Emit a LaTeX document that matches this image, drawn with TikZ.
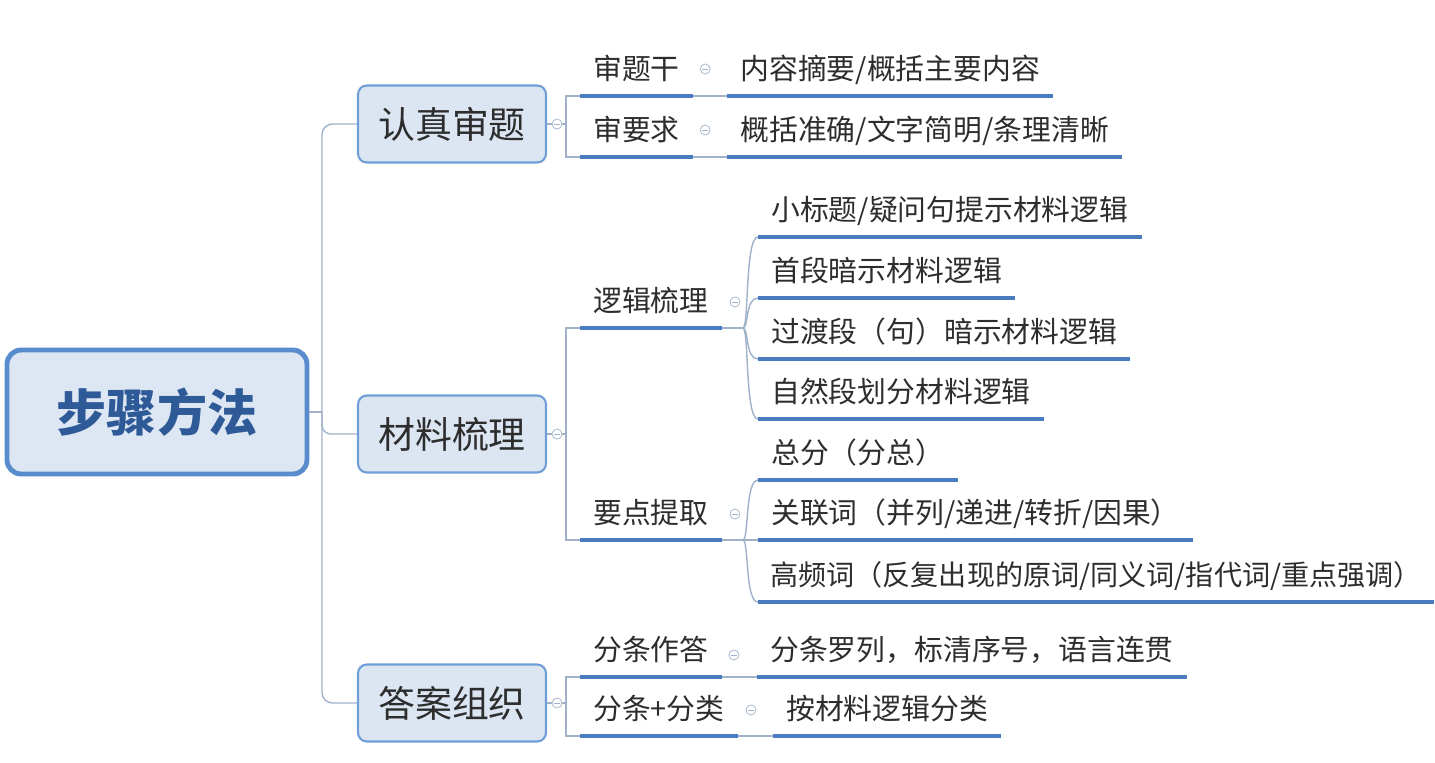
\documentclass[tikz,border=0pt]{standalone}
\usepackage{fontspec}
\setmainfont{Noto Sans CJK SC}
\usetikzlibrary{calc,positioning}
\definecolor{rootline}{RGB}{88,140,205}
\definecolor{rootfill}{RGB}{221,231,243}
\definecolor{rootink}{RGB}{46,90,152}
\definecolor{mainline}{RGB}{112,158,214}
\definecolor{mainfill}{RGB}{220,230,242}
\definecolor{underblue}{RGB}{72,124,190}
\definecolor{linkgray}{RGB}{160,178,202}
\definecolor{ink}{RGB}{45,45,45}
\tikzset{
	link/.style={draw=linkgray,line width=0.8pt},
	uline/.style={draw=underblue,line width=2.2pt},
	rootbox/.style={draw=rootline,fill=rootfill,line width=2.8pt,rounded corners=8pt,
		minimum width=6.0cm,minimum height=2.48cm,text=rootink,
		font=\fontsize{28.5pt}{32pt}\selectfont\bfseries},
	mainbox/.style={draw=mainline,fill=mainfill,line width=1.2pt,rounded corners=5pt,
		minimum width=3.76cm,minimum height=1.54cm,text=ink,
		font=\fontsize{21pt}{24pt}\selectfont},
	topic/.style={anchor=south west,inner xsep=0.26cm,inner ysep=0pt,
		text height=0.45cm,text depth=0.32cm,text=ink,
		font=\fontsize{16.4pt}{19pt}\selectfont},
	fold/.style={circle,draw=linkgray!85,fill=white,line width=0.5pt,
		minimum size=0.2cm,inner sep=0pt,
		path picture={\draw[linkgray,line width=0.5pt]
			([xshift=-1.8pt]path picture bounding box.center) --
			([xshift=1.8pt]path picture bounding box.center);}},
}
\begin{document}
\begin{tikzpicture}[x=0.02cm,y=-0.02cm]
	\useasboundingbox (0,0) rectangle (1435,762);
	
	% root and main branches
	\node[rootbox] (root) at (157,412) {步骤方法};
	\node[mainbox] (shen) at (452,124) {认真审题};
	\node[mainbox] (cail) at (452,434) {材料梳理};
	\node[mainbox] (daan) at (452,703) {答案组织};
	
	% second level
	\node[topic] (tgan) at (580,96) {审题干};
	\node[topic] (tyao) at (580,157) {审要求};
	\node[topic] (luoji) at (580,328) {逻辑梳理};
	\node[topic] (yaod) at (580,540) {要点提取};
	\node[topic] (fzd) at (580,677) {分条作答};
	\node[topic] (ffl) at (580,736) {分条+分类};
	
	% leaves
	\node[topic] (gaik) at ($(tgan.south east)+(34,0)$) {内容摘要/概括主要内容};
	\node[topic] (zhunq) at ($(tyao.south east)+(34,0)$) {概括准确/文字简明/条理清晰};
	
	\node[topic] (xbt) at ($(luoji.south east)+(36,-91)$) {小标题/疑问句提示材料逻辑};
	\node[topic] (sd) at ($(luoji.south east)+(36,-30)$) {首段暗示材料逻辑};
	\node[topic] (gd) at ($(luoji.south east)+(36,31)$) {过渡段（句）暗示材料逻辑};
	\node[topic] (zr) at ($(luoji.south east)+(36,91)$) {自然段划分材料逻辑};
	
	\node[topic] (zf) at ($(yaod.south east)+(36,-60)$) {总分（分总）};
	\node[topic] (gl) at ($(yaod.south east)+(36,0)$) {关联词（并列/递进/转折/因果）};
	\node[topic,inner xsep=0.24cm,font=\fontsize{16pt}{19pt}\selectfont] (gp)
	at ($(yaod.south east)+(36,62)$) {高频词（反复出现的原词/同义词/指代词/重点强调）};
	
	\node[topic] (flz) at ($(fzd.south east)+(35,0)$) {分条罗列，标清序号，语言连贯};
	\node[topic] (acl) at ($(ffl.south east)+(35,0)$) {按材料逻辑分类};
	
	% trunk from the root
	\coordinate (trunk) at (322,412);
	\draw[link] (root.east) -- (trunk);
	\draw[link,rounded corners=6pt] (shen.west) -| (trunk) |- (daan.west);
	\draw[link,rounded corners=5pt] (trunk) |- (cail.west);
	
	% brackets to the second level
	\coordinate (jshen) at ($(shen.east)+(19,0)$);
	\coordinate (jcail) at ($(cail.east)+(19,0)$);
	\coordinate (jdaan) at ($(daan.east)+(19,0)$);
	\draw[link] (shen.east) -- (jshen);
	\draw[link] (cail.east) -- (jcail);
	\draw[link] (daan.east) -- (jdaan);
	\draw[link] (tgan.south west) -| (jshen) |- (tyao.south west);
	\draw[link] (luoji.south west) -| (jcail) |- (yaod.south west);
	\draw[link] (fzd.south west) -| (jdaan) |- (ffl.south west);
	
	% single leaves
	\draw[link] (tgan.south east) -- (gaik.south west);
	\draw[link] (tyao.south east) -- (zhunq.south west);
	\draw[link] (fzd.south east) -- (flz.south west);
	\draw[link] (ffl.south east) -- (acl.south west);
	
	% curved fans
	\coordinate (jluoji) at ($(luoji.south east)+(21,0)$);
	\coordinate (jyaod) at ($(yaod.south east)+(21,0)$);
	\draw[link] (luoji.south east) -- (jluoji);
	\draw[link] (yaod.south east) -- (jyaod);
	\foreach \c in {xbt,sd,gd,zr}
	\draw[link] (jluoji) .. controls +(6,0) and +(-13,0) .. (\c.south west);
	\foreach \c in {zf,gl,gp}
	\draw[link] (jyaod) .. controls +(6,0) and +(-13,0) .. (\c.south west);
	
	% underlines
	\foreach \n in {tgan,tyao,luoji,yaod,fzd,ffl,gaik,zhunq,xbt,sd,gd,zr,zf,gl,gp,flz,acl}
	\draw[uline] (\n.south west) -- (\n.south east);
	
	% fold markers
	\node[fold] (fshen) at ($(shen.east)+(10,0)$) {};
	\node[fold] (fcail) at ($(cail.east)+(10,0)$) {};
	\node[fold] (fdaan) at ($(daan.east)+(10,0)$) {};
	\node[fold] (ftgan) at ($(tgan.south east)+(12,-27)$) {};
	\node[fold] (ftyao) at ($(tyao.south east)+(12,-27)$) {};
	\node[fold] (fluoji) at ($(luoji.south east)+(13,-26)$) {};
	\node[fold] (fyaod) at ($(yaod.south east)+(13,-26)$) {};
	\node[fold] (ffzd) at ($(fzd.south east)+(12,-22)$) {};
	\node[fold] (fffl) at ($(ffl.south east)+(13,-26)$) {};
	
\end{tikzpicture}
\end{document}
